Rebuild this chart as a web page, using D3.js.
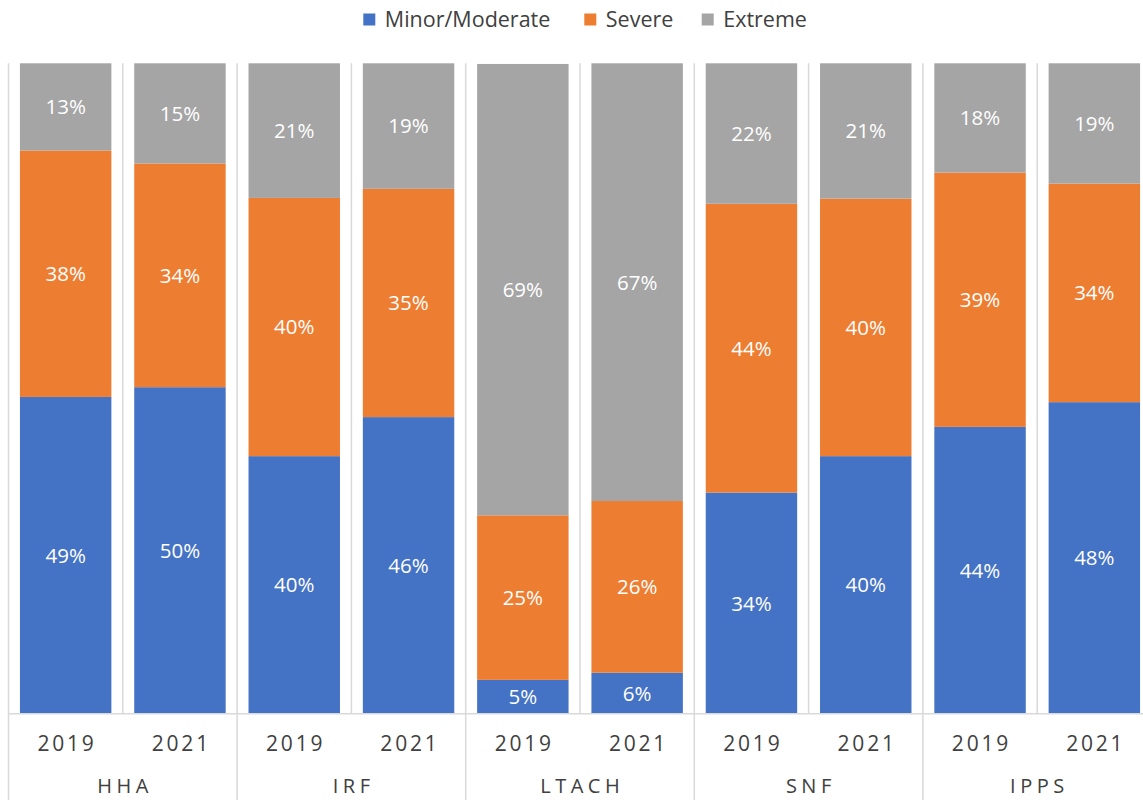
<!DOCTYPE html>
<html>
<head>
<meta charset="utf-8">
<script src="https://cdn.jsdelivr.net/npm/d3@7"></script>
<style>
  html, body { margin: 0; padding: 0; background: #fff; }
  svg { display: block; font-family: "Open Sans", "Noto Sans", sans-serif; }
</style>
</head>
<body>
<svg id="chart" width="1143" height="800"></svg>
<script>
// ---- data ----
const categories = ["HHA", "IRF", "LTACH", "SNF", "IPPS"];
const years = ["2019", "2021"];
const seriesNames = ["Minor/Moderate", "Severe", "Extreme"];
const minorModerate = [48.7, 50.2, 39.6, 45.6, 5.2, 6.3, 34.0, 39.6, 44.1, 47.9];
const severe        = [37.9, 34.4, 39.7, 35.1, 25.3, 26.4, 44.4, 39.6, 39.1, 33.6];
const extreme       = [13.4, 15.4, 20.7, 19.3, 69.4, 67.3, 21.6, 20.9, 17.9, 18.5];
const colors = ["#4472C4", "#ED7D31", "#A5A5A5"];

(function () {
// build rows
const rows = [];
categories.forEach((c, ci) => years.forEach((yr, yi) => {
  const i = ci * years.length + yi;
  rows.push({ id: i, cat: c, year: yr,
    "Minor/Moderate": minorModerate[i], "Severe": severe[i], "Extreme": extreme[i] });
}));

const svg = d3.select("#chart");
const W = 1143, H = 800;
const pLeft = 8.5, pRight = 1151.5, pTop = 63.3, pBottom = 713.7;

const x = d3.scaleBand().domain(rows.map(d => d.id)).range([pLeft, pRight])
  .paddingInner(0.2).paddingOuter(0.1);
const xg = d3.scaleBand().domain(categories).range([pLeft, pRight]);
const y = d3.scaleLinear().domain([0, 100]).range([pBottom, pTop]).clamp(true);

const grid = "#D9D9D9";
const txt = "#404040";

// vertical gridlines at each band boundary (inside plot)
const step = x.step();
const bounds = d3.range(rows.length + 1).map(i => pLeft + i * step);
svg.append("g").selectAll("line").data(bounds).join("line")
  .attr("x1", d => d).attr("x2", d => d)
  .attr("y1", pTop).attr("y2", pBottom)
  .attr("stroke", grid).attr("stroke-width", 1.5);

// stacked bars
const stack = d3.stack().keys(seriesNames);
const stacked = stack(rows);
const gBars = svg.append("g");
stacked.forEach((layer, li) => {
  gBars.append("g").attr("fill", colors[li])
    .selectAll("rect").data(layer).join("rect")
    .attr("x", d => x(d.data.id))
    .attr("width", x.bandwidth())
    .attr("y", d => y(d[1]))
    .attr("height", d => y(d[0]) - y(d[1]));
});

// data labels
const gLab = svg.append("g");
stacked.forEach((layer, li) => {
  gLab.append("g").selectAll("text").data(layer).join("text")
    .attr("x", d => x(d.data.id) + x.bandwidth() / 2)
    .attr("y", d => (y(d[0]) + y(d[1])) / 2)
    .attr("dy", "0.36em")
    .attr("text-anchor", "middle")
    .attr("fill", "#fff")
    .attr("font-size", 20.5)
    .text(d => Math.round(d.data[layer.key]) + "%");
});

// x axis line
svg.append("line").attr("x1", pLeft).attr("x2", pRight)
  .attr("y1", pBottom).attr("y2", pBottom)
  .attr("stroke", grid).attr("stroke-width", 1.5);

// year axis
const axYear = d3.axisBottom(x).tickSize(0).tickFormat(i => rows[i].year);
const gy = svg.append("g").attr("transform", `translate(0,${pBottom})`).call(axYear);
gy.select(".domain").remove();
gy.selectAll("text").attr("y", 37).attr("dy", 0)
  .attr("font-size", 21).attr("fill", txt)
  .attr("letter-spacing", "2.8px").attr("dx", 1.4)
  .attr("font-family", "'Open Sans', sans-serif");

// group axis
const axGroup = d3.axisBottom(xg).tickSize(0);
const gg = svg.append("g").attr("transform", `translate(0,${pBottom})`).call(axGroup);
gg.select(".domain").remove();
gg.selectAll("text").attr("y", 79.5).attr("dy", 0)
  .attr("font-size", 20).attr("fill", txt)
  .attr("letter-spacing", "4.5px").attr("dx", 2.2)
  .attr("font-family", "'Open Sans', sans-serif");

// group separators below axis
const gBounds = d3.range(categories.length + 1).map(i => pLeft + i * xg.step());
svg.append("g").selectAll("line").data(gBounds).join("line")
  .attr("x1", d => d).attr("x2", d => d)
  .attr("y1", pBottom).attr("y2", H)
  .attr("stroke", grid).attr("stroke-width", 1.5);

// legend
const legend = svg.append("g").attr("font-size", 21.5).attr("fill", txt);
const legendX = [363.3, 584.3, 701.7];
seriesNames.forEach((s, i) => {
  const g = legend.append("g").attr("transform", `translate(${legendX[i]},0)`);
  g.append("rect").attr("x", 0).attr("y", 13.5).attr("width", 12).attr("height", 12)
    .attr("fill", colors[i]);
  g.append("text").attr("x", 21.5).attr("y", 26.8).text(s);
});
})();
</script>
</body>
</html>
